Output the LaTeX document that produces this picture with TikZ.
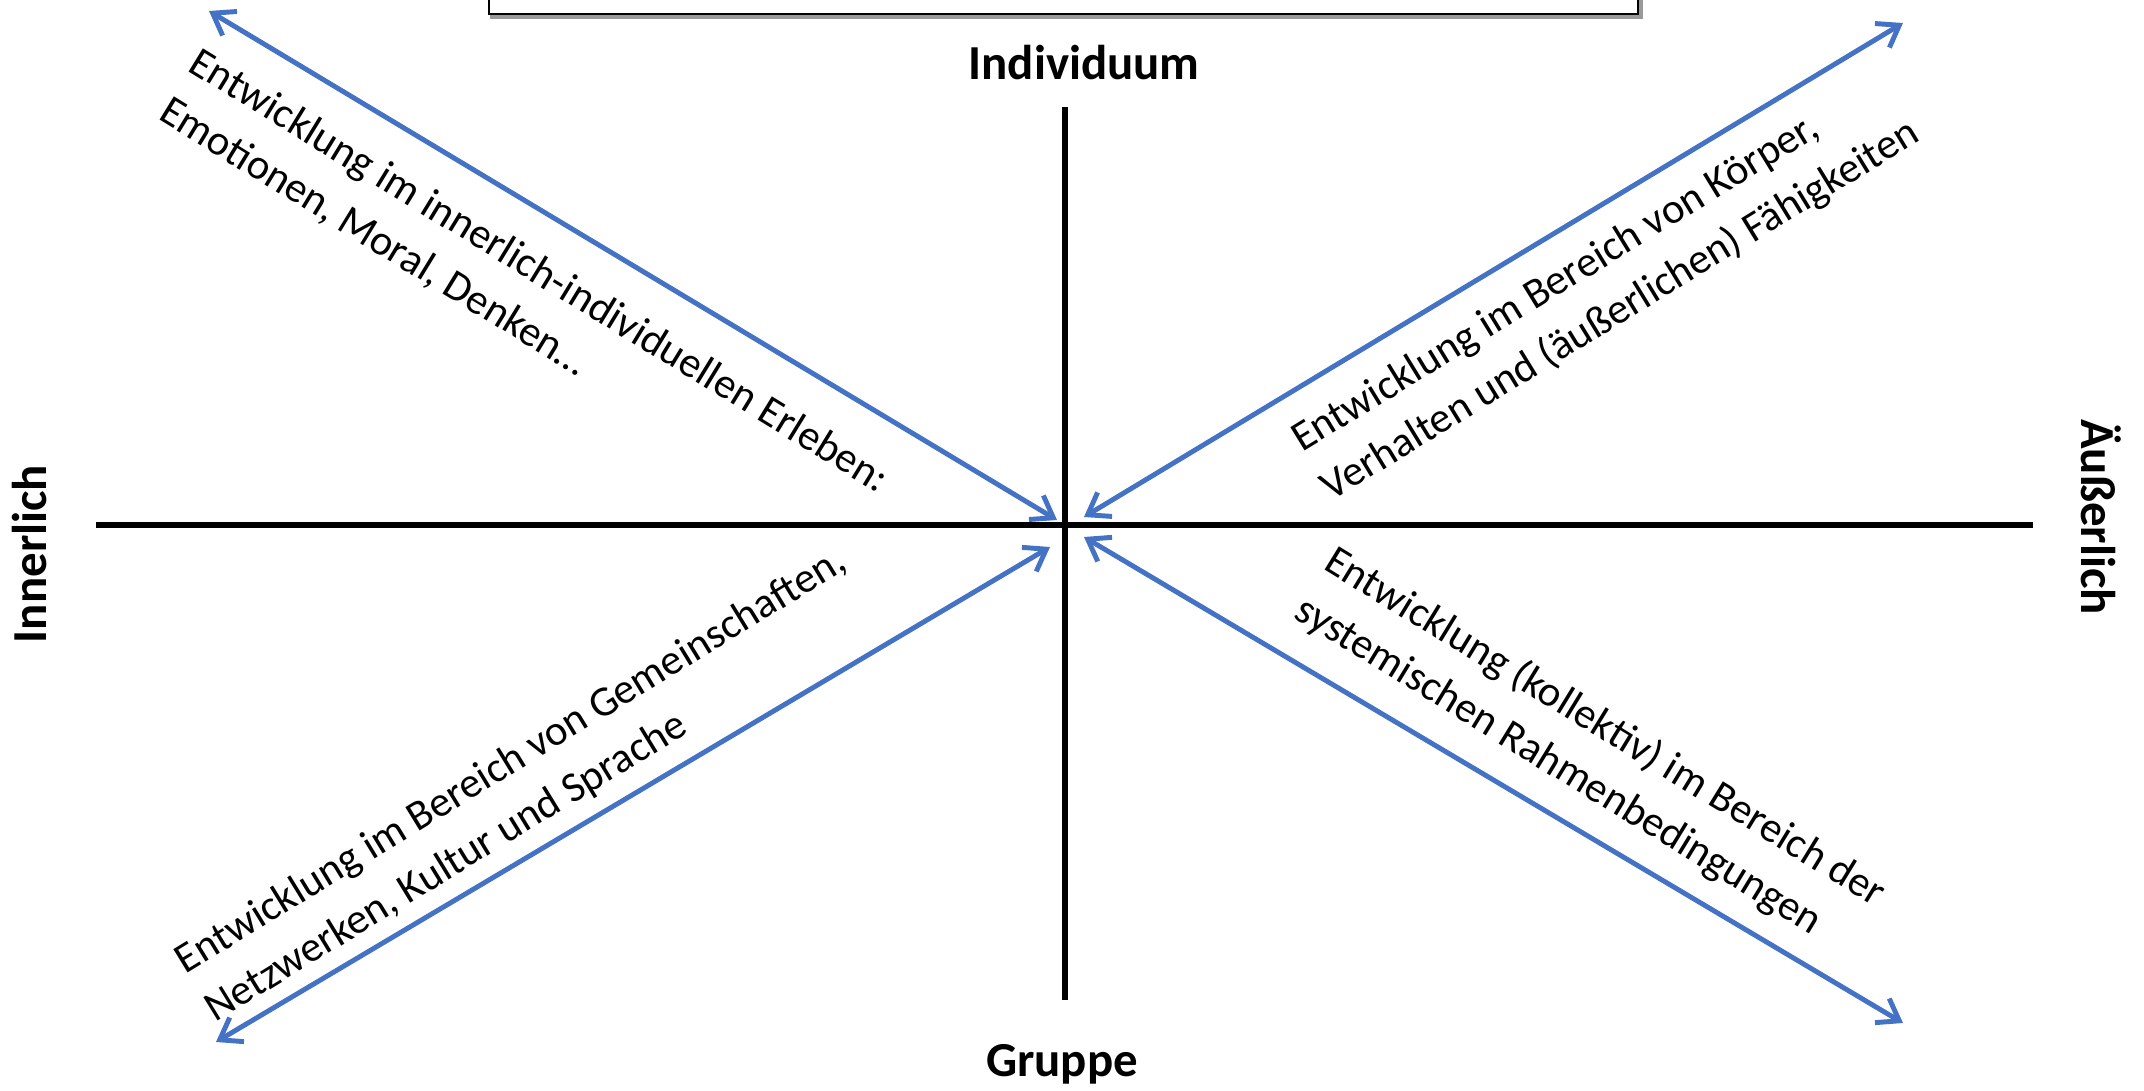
\documentclass[tikz,border=0pt]{standalone}
\usepackage{fontspec}
\setmainfont{Carlito}
\usetikzlibrary{arrows.meta}
\definecolor{pfeilblau}{HTML}{4472C4}

\tikzset{
  achse/.style={line width=1.5pt, black},
  pfeil/.style={line width=1.4pt, pfeilblau,
    {Straight Barb[length=2mm,width=2.8mm]}-{Straight Barb[length=2mm,width=2.8mm]}},
  titel/.style={font=\fontsize{13.9}{16}\selectfont\bfseries, inner sep=0pt},
  bereich/.style={font=\fontsize{12.1}{16.2}\selectfont, align=left, inner sep=0pt}
}

\begin{document}
\begin{tikzpicture}[x=0.01cm, y=-0.01cm]
\useasboundingbox (0,0) rectangle (2144,1091);

\draw[gray!80, line width=1.2pt] (492,-30) rectangle (1641,17);
\draw[fill=white, line width=0.8pt] (489,-30) rectangle (1638,14);

\coordinate (M) at (1065,525);
\coordinate (N) at (1065,107);
\coordinate (S) at (1065,1000);
\coordinate (W) at (96,525);
\coordinate (O) at (2033,525);

\draw[achse] (N) -- (S);
\draw[achse] (W) -- (O);

\coordinate (A1) at (209,11);
\coordinate (A2) at (1057,520);
\coordinate (B1) at (1903,23);
\coordinate (B2) at (1084,517);
\coordinate (C1) at (216,1042);
\coordinate (C2) at (1050,547);
\coordinate (D1) at (1903,1023);
\coordinate (D2) at (1084,537);

\draw[pfeil] (A1) -- (A2);
\draw[pfeil] (B1) -- (B2);
\draw[pfeil] (C1) -- (C2);
\draw[pfeil] (D1) -- (D2);

\node[titel] (ind) at (1084,63) {Individuum};
\node[titel] (gru) at (1062,1064) {Gruppe};
\node[titel, rotate=90] (inn) at (30,554) {Innerlich};
\node[titel, rotate=-90] (aus) at (2101,517) {Äußerlich};

\node[bereich, rotate=-31.5] (tA) at (524,296)
  {Entwicklung im innerlich-individuellen Erleben:\\
   Emotionen, Moral, Denken…};
\node[bereich, rotate=31.5] (tB) at (1606,287)
  {Entwicklung im Bereich von Körper,\\
   Verhalten und (äußerlichen) Fähigkeiten};
\node[bereich, rotate=31.5] (tC) at (526,786)
  {Entwicklung im Bereich von Gemeinschaften,\\
   Netzwerken, Kultur und Sprache};
\node[bereich, rotate=-31.5] (tD) at (1590,752)
  {Entwicklung (kollektiv) im Bereich der\\
   systemischen Rahmenbedingungen};
\end{tikzpicture}
\end{document}
